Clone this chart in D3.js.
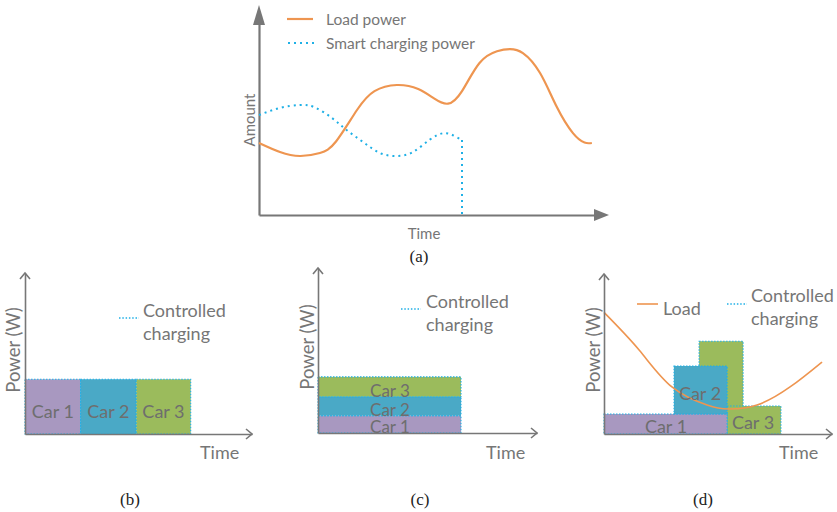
<!DOCTYPE html>
<html><head><meta charset="utf-8">
<script src="https://cdn.jsdelivr.net/npm/d3@7"></script>
<style>
body{margin:0;background:#fff;}
svg{display:block;}
text{font-family:Lato,"Open Sans",sans-serif;}
text.cap{font-family:"Liberation Serif","DejaVu Serif",serif;}
</style></head>
<body><svg id="c" width="837" height="512"></svg>
<script>
// ---------- DATA ----------
// Panel (a): time vs amount (arbitrary units 0..10)
const loadA_t = [0,0.6,1.17,1.74,2.2,2.8,3.3,3.94,4.55,5.0,5.4,5.8,6.3,6.8,7.17,7.54,8.03,8.51,8.97,9.3,9.51];
const loadA_v = [3.43,3.0,2.81,2.95,3.5,5.0,5.9,6.19,6.0,5.55,5.3,5.9,7.24,7.8,7.9,7.71,6.76,5.14,3.9,3.45,3.43];
const smartA_t = [0,0.6,1.17,1.6,2.1,2.5,2.97,3.46,3.94,4.4,4.89,5.3,5.6,5.8];
const smartA_v = [4.76,5.1,5.24,5.12,4.6,4.05,3.48,2.95,2.81,3.0,3.6,3.9,3.75,3.57];
const smartA_endT = 5.8;
const legendA = ["Load power","Smart charging power"];

// Panel (b): sequential charging
const carNames = ["Car 1","Car 2","Car 3"];
const b_start = [0,2.45,4.9];
const b_end = [2.45,4.9,7.3];
const b_power = [3.4,3.4,3.4];

// Panel (c): simultaneous stacked charging
const c_start = [0,0,0];
const c_end = [6.53,6.53,6.53];
const c_power = [1.05,1.15,1.2];

// Panel (d): load-following charging (rect pieces)
const d_car = ["Car 3","Car 3","Car 1","Car 2"];
const d_x0 = [4.17,5.4,0,3.07];
const d_x1 = [6.1,7.76,5.4,5.4];
const d_y0 = [0,0,0,1.25];
const d_y1 = [5.8,1.75,1.25,4.25];
const loadD_t = [0,1.54,2.98,4.52,5.44,6.71,8.16,9.56];
const loadD_v = [7.6,5.25,2.94,1.81,1.56,1.81,2.94,4.5];

const carColor = {"Car 1":"#a898c0","Car 2":"#4aa9c6","Car 3":"#9bbb5c"};
const orange = "#ee9550", blue = "#1fb0e6", axisCol = "#777777", txtCol = "#767676";

const svg = d3.select("#c");

// ---------- PANEL (a) ----------
{
  const x = d3.scaleLinear().domain([0,10]).range([259,609]);
  const y = d3.scaleLinear().domain([0,10]).range([215,5]);
  const g = svg.append("g");
  g.append("g").attr("transform",`translate(${x(0)},0)`)
    .call(d3.axisLeft(d3.scaleLinear().domain([0,10]).range([215,19])).tickValues([]).tickSizeOuter(0));
  g.append("g").attr("transform",`translate(0,${y(0)})`)
    .call(d3.axisBottom(d3.scaleLinear().domain([0,10]).range([259,594])).tickValues([]).tickSizeOuter(0));
  g.selectAll(".domain").attr("stroke",axisCol).attr("stroke-width",2.2);
  g.append("path").attr("d",`M${x(0)-6},${y(0)-190}L${x(0)},${y(10)}L${x(0)+6},${y(0)-190}Z`).attr("fill",axisCol);
  g.append("path").attr("d",`M${x(10)-15},${y(0)-6}L${x(10)},${y(0)}L${x(10)-15},${y(0)+6}Z`).attr("fill",axisCol);

  const line = d3.line().x(d=>x(d[0])).y(d=>y(d[1])).curve(d3.curveNatural);
  g.append("path").datum(loadA_t.map((t,i)=>[t,loadA_v[i]])).attr("d",line)
    .attr("fill","none").attr("stroke",orange).attr("stroke-width",2.2);
  g.append("path").datum(smartA_t.map((t,i)=>[t,smartA_v[i]])).attr("d",line)
    .attr("fill","none").attr("stroke",blue).attr("stroke-width",2).attr("stroke-dasharray","2,4");
  g.append("path").attr("d",`M${x(smartA_endT)},${y(smartA_v[smartA_v.length-1])}L${x(smartA_endT)},${y(0)}`)
    .attr("fill","none").attr("stroke",blue).attr("stroke-width",2).attr("stroke-dasharray","2,4");

  g.append("line").attr("x1",287).attr("x2",313).attr("y1",19).attr("y2",19).attr("stroke",orange).attr("stroke-width",2.2);
  g.append("line").attr("x1",288).attr("x2",314).attr("y1",43).attr("y2",43).attr("stroke",blue).attr("stroke-width",2).attr("stroke-dasharray","2,4");
  g.append("text").attr("x",326).attr("y",25).attr("font-size",15.5).attr("fill",txtCol).text(legendA[0]);
  g.append("text").attr("x",326).attr("y",49).attr("font-size",15.5).attr("fill",txtCol).text(legendA[1]);
  g.append("text").attr("transform","translate(255,120) rotate(-90)").attr("text-anchor","middle")
    .attr("font-size",15).attr("fill",txtCol).text("Amount");
  g.append("text").attr("x",424).attr("y",239).attr("text-anchor","middle").attr("font-size",15).attr("fill",txtCol).text("Time");
  g.append("text").attr("class","cap").attr("x",419).attr("y",262).attr("text-anchor","middle").attr("font-size",17)
    .attr("fill","#222").text("(a)");
}

function panel(opt){
  const x = d3.scaleLinear().domain([0,10]).range([opt.x0,opt.x1]);
  const y = d3.scaleLinear().domain([0,10]).range([opt.y0,opt.y1]);
  const g = svg.append("g");
  return {x,y,g};
}
function drawAxes(p, o){
  const {x,y,g} = p;
  g.append("g").attr("transform",`translate(${x(0)},0)`)
    .call(d3.axisLeft(y).tickValues([]).tickSizeOuter(0));
  g.append("g").attr("transform",`translate(0,${y(0)})`)
    .call(d3.axisBottom(x).tickValues([]).tickSizeOuter(0));
  g.selectAll(".domain").attr("stroke",axisCol).attr("stroke-width",1.6);
  g.append("path").attr("d",`M${x(0)-5},${y(10)+6}L${x(0)},${y(10)}L${x(0)+5},${y(10)+6}`)
    .attr("fill","none").attr("stroke",axisCol).attr("stroke-width",1.6);
  g.append("path").attr("d",`M${x(10)-6},${y(0)-5}L${x(10)},${y(0)}L${x(10)-6},${y(0)+5}`)
    .attr("fill","none").attr("stroke",axisCol).attr("stroke-width",1.6);
  g.append("text").attr("transform",`translate(${o.ylx},${o.yly}) rotate(-90)`).attr("text-anchor","middle")
    .attr("dominant-baseline","central").attr("font-size",18.5).attr("fill",txtCol).text("Power (W)");
  g.append("text").attr("x",o.tx).attr("y",459).attr("font-size",18).attr("fill",txtCol).text("Time");
  g.append("text").attr("class","cap").attr("x",o.capx).attr("y",505).attr("text-anchor","middle").attr("font-size",17)
    .attr("fill","#222").text(o.cap);
}
function ccLegend(g, lx, ly, tx, ty){
  g.append("line").attr("x1",lx).attr("x2",lx+20).attr("y1",ly).attr("y2",ly)
    .attr("stroke",blue).attr("stroke-width",1.4).attr("stroke-dasharray","1.5,1.8");
  g.append("text").attr("x",tx).attr("y",ty).attr("font-size",18).attr("fill",txtCol).text("Controlled");
  g.append("text").attr("x",tx).attr("y",ty+23).attr("font-size",18).attr("fill",txtCol).text("charging");
}
function rect(g,x,y,name,x0,x1,y0,y1){
  g.append("rect").attr("x",x(x0)).attr("y",y(y1)).attr("width",x(x1)-x(x0)).attr("height",y(y0)-y(y1))
    .attr("fill",carColor[name]).attr("stroke",blue).attr("stroke-width",1.1).attr("stroke-dasharray","1.5,1.5");
}

// ---------- PANEL (b) ----------
{
  const p = panel({x0:25,x1:252,y0:434,y1:273});
  const {x,y,g} = p;
  carNames.forEach((n,i)=>rect(g,x,y,n,b_start[i],b_end[i],0,b_power[i]));
  carNames.forEach((n,i)=>g.append("text").attr("x",(x(b_start[i])+x(b_end[i]))/2).attr("y",418)
    .attr("text-anchor","middle").attr("font-size",18).attr("fill","#6e6e6e").text(n));
  drawAxes(p,{ylx:13,yly:350,tx:200,capx:130,cap:"(b)"});
  ccLegend(g,119,318,143,317);
}

// ---------- PANEL (c) ----------
{
  const p = panel({x0:318,x1:537,y0:433,y1:268});
  const {x,y,g} = p;
  let acc = 0;
  const stack = c_power.map(v=>{const s=[acc,acc+v]; acc+=v; return s;});
  carNames.forEach((n,i)=>rect(g,x,y,n,c_start[i],c_end[i],stack[i][0],stack[i][1]));
  carNames.forEach((n,i)=>g.append("text").attr("x",390).attr("y",y(stack[i][0]))
    .attr("text-anchor","middle").attr("font-size",17).attr("fill","#6e6e6e").text(n));
  drawAxes(p,{ylx:307,yly:347,tx:486,capx:420,cap:"(c)"});
  ccLegend(g,401,309,426,308);
}

// ---------- PANEL (d) ----------
{
  const p = panel({x0:604,x1:832,y0:434,y1:274});
  const {x,y,g} = p;
  d_car.forEach((n,i)=>rect(g,x,y,n,d_x0[i],d_x1[i],d_y0[i],d_y1[i]));
  const line = d3.line().x(d=>x(d[0])).y(d=>y(d[1])).curve(d3.curveNatural);
  g.append("path").datum(loadD_t.map((t,i)=>[t,loadD_v[i]])).attr("d",line)
    .attr("fill","none").attr("stroke",orange).attr("stroke-width",1.6);
  const lab = [["Car 1",666,433],["Car 2",700,400],["Car 3",753,429]];
  lab.forEach(l=>g.append("text").attr("x",l[1]).attr("y",l[2]).attr("text-anchor","middle")
    .attr("font-size",18).attr("fill","#6e6e6e").text(l[0]));
  drawAxes(p,{ylx:593,yly:350,tx:779,capx:703,cap:"(d)"});
  g.append("line").attr("x1",637).attr("x2",658).attr("y1",304).attr("y2",304).attr("stroke",orange).attr("stroke-width",1.6);
  g.append("text").attr("x",663).attr("y",315).attr("font-size",18).attr("fill",txtCol).text("Load");
  ccLegend(g,727,304,751,302);
}
</script></body></html>
